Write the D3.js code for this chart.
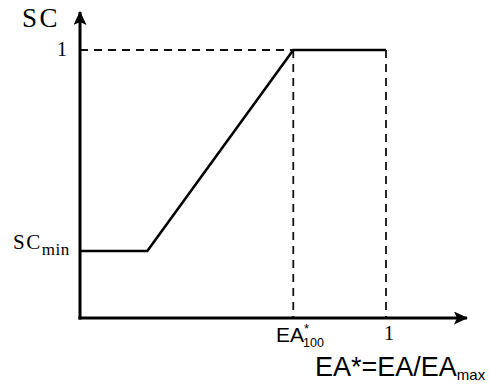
<!DOCTYPE html>
<html>
<head>
<meta charset="utf-8">
<script src="https://cdn.jsdelivr.net/npm/d3@7"></script>
<style>
  body { margin: 0; background: #fff; }
  svg { display: block; }
</style>
</head>
<body>
<svg width="490" height="387"></svg>
<script>
// curve knots (EA*, SC)
const curveX = [0, 0.22, 0.697, 1];
const curveY = [0.25, 0.25, 1, 1];
const ea100 = 0.697;
const scMin = 0.25;

let svg = d3.select('svg');
let x = d3.scaleLinear().domain([0, 1]).range([80, 386]);
let y = d3.scaleLinear().domain([0, 1]).range([318, 50]);

let defs = svg.append('defs');
defs.append('marker')
    .attr('id', 'arrow')
    .attr('viewBox', '0 0 14 13')
    .attr('refX', 13).attr('refY', 6.5)
    .attr('markerWidth', 14).attr('markerHeight', 13)
    .attr('markerUnits', 'userSpaceOnUse')
    .attr('orient', 'auto')
  .append('path')
    .attr('d', 'M0,0 L14,6.5 L0,13 L3,6.5 Z')
    .attr('fill', '#000');

// dashed guides
let dash = svg.append('g')
    .attr('stroke', '#111')
    .attr('stroke-width', 1.8)
    .attr('stroke-dasharray', '8,6')
    .attr('fill', 'none');
dash.append('line')
    .attr('x1', x(0)).attr('x2', x(ea100))
    .attr('y1', y(1)).attr('y2', y(1));
dash.append('line')
    .attr('x1', x(ea100)).attr('x2', x(ea100))
    .attr('y1', y(1)).attr('y2', y(0));
dash.append('line')
    .attr('x1', x(1)).attr('x2', x(1))
    .attr('y1', y(1)).attr('y2', y(0));

// the curve
let line = d3.line().x(d => x(d[0])).y(d => y(d[1]));
svg.append('path')
    .datum(d3.zip(curveX, curveY))
    .attr('d', line)
    .attr('fill', 'none')
    .attr('stroke', '#000')
    .attr('stroke-width', 2.6);

// axes
svg.append('line')
    .attr('x1', x(0)).attr('y1', y(0) + 1.5)
    .attr('x2', x(0)).attr('y2', 12)
    .attr('stroke', '#000').attr('stroke-width', 3)
    .attr('marker-end', 'url(#arrow)');
svg.append('line')
    .attr('x1', x(0) - 1.5).attr('y1', y(0))
    .attr('x2', 467).attr('y2', y(0))
    .attr('stroke', '#000').attr('stroke-width', 3)
    .attr('marker-end', 'url(#arrow)');

// labels
let serif = '"Liberation Serif", "Times New Roman", serif';
let sans = '"Liberation Sans", Arial, sans-serif';

svg.append('text')
    .attr('x', 22).attr('y', 27)
    .attr('font-family', serif).attr('font-size', 27)
    .attr('letter-spacing', 2.5)
    .text('SC');
svg.append('text')
    .attr('x', 67).attr('y', y(1) + 6)
    .attr('text-anchor', 'end')
    .attr('font-family', serif).attr('font-size', 20)
    .text('1');
let scm = svg.append('text')
    .attr('x', 13).attr('y', 249)
    .attr('font-family', serif).attr('font-size', 21)
    .attr('letter-spacing', 1.5);
scm.append('tspan').text('SC');
scm.append('tspan').attr('dy', 6).attr('font-size', 17).attr('letter-spacing', 0.5).text('min');

svg.append('text')
    .attr('x', 276).attr('y', 342)
    .attr('font-family', sans).attr('font-size', 21)
    .text('EA');
svg.append('text')
    .attr('x', 304).attr('y', 333)
    .attr('font-family', sans).attr('font-size', 13)
    .text('*');
svg.append('text')
    .attr('x', 303).attr('y', 347)
    .attr('font-family', sans).attr('font-size', 12.5)
    .text('100');

svg.append('text')
    .attr('x', x(1) + 3).attr('y', 340)
    .attr('text-anchor', 'middle')
    .attr('font-family', serif).attr('font-size', 20)
    .text('1');

let axt = svg.append('text')
    .attr('x', 315).attr('y', 376)
    .attr('font-family', sans).attr('font-size', 27);
axt.append('tspan').text('EA*=EA/EA');
axt.append('tspan').attr('dy', 4).attr('font-size', 15).text('max');
</script>
</body>
</html>
